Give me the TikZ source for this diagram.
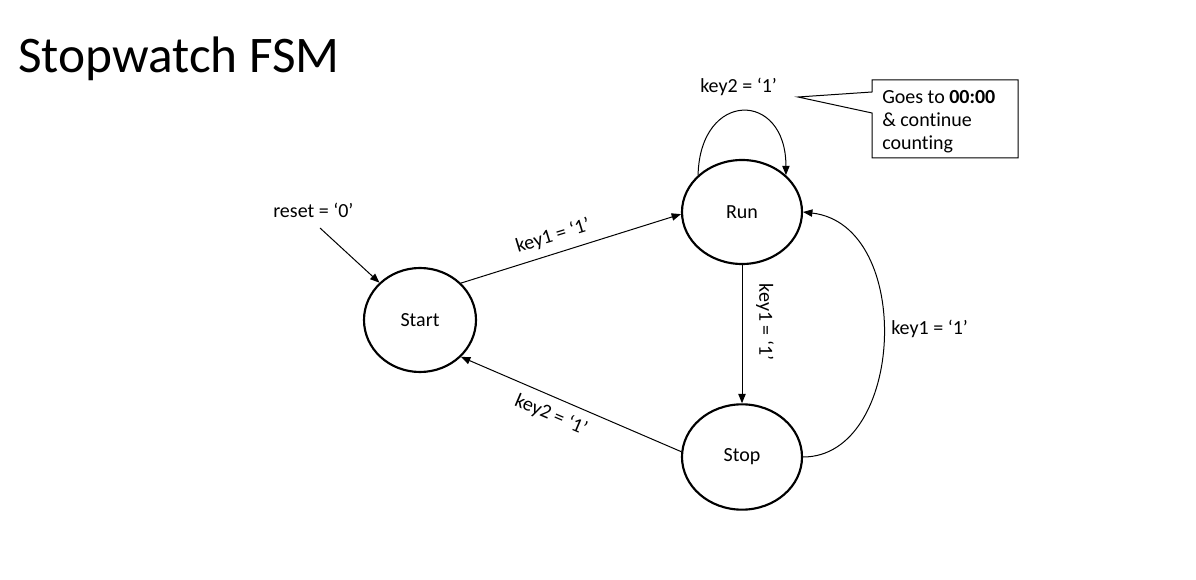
\documentclass[tikz,border=0pt]{standalone}
\usepackage{fontspec}
\setmainfont{Carlito}[Ligatures=NoCommon]
\usetikzlibrary{shapes.geometric,arrows.meta}

\begin{document}
\begin{tikzpicture}[x=0.75pt,y=-0.75pt,
		state/.style={draw,ellipse,line width=1.6pt,inner sep=0pt,font=\fontsize{15}{18}\selectfont},
		trans/.style={-{Triangle[length=7pt,width=5.5pt]},line width=0.75pt},
		lbl/.style={font=\fontsize{15}{17.5}\selectfont,inner sep=0pt}]
		\useasboundingbox (0,0) rectangle (1196,580);
		\node[anchor=base west,inner sep=0pt,font=\fontsize{38.5}{42}\selectfont] (title) at (18,73) {Stopwatch FSM};

		\node[state,minimum width=84pt,minimum height=78pt] (Start) at (420,320) {Start};
		\node[state,minimum width=90pt,minimum height=78pt] (Run) at (742,212) {Run};
		\node[state,minimum width=90pt,minimum height=79pt] (Stop) at (742,457) {Stop};

		\node[lbl,anchor=base west] (resetlbl) at (273,218) {reset = ‘0’};
		\coordinate (resetin) at (320,228);
		\draw[trans] (resetin) -- (Start);

		\draw[trans] (Start.42) -- (Run.182);
		\node[lbl,rotate=17] (k1a) at (553,236) {key1 = ‘1’};
		\draw[trans] (Stop.175) -- (Start.-42);
		\node[lbl,rotate=-23] (k2a) at (551,415) {key2 = ‘1’};
		\draw[trans] (Run.south) -- (Stop.north);
		\node[lbl,rotate=-90] (k1b) at (765,322) {key1 = ‘1’};
		\draw[trans] (Stop.east) .. controls (905,457) and (915,225) .. (Run.east);
		\node[lbl,anchor=base west] (k1c) at (891,335) {key1 = ‘1’};
		\draw[trans] (Run.140) .. controls (700,90) and (786,90) .. (Run.40);
		\node[lbl,anchor=base west] (k2b) at (700,93) {key2 = ‘1’};

		% callout
		\coordinate (tip) at (798,97);
		\draw[line width=0.75pt] (872,92) -- (872,80) -- (1018,80) -- (1018,158) -- (872,158) -- (872,113) -- (tip) -- cycle;
		\node[lbl,anchor=base west,align=left] (note) at (882,150) {Goes to \textbf{00:00}\\ \& continue\\ counting};
	\end{tikzpicture}
\end{document}
